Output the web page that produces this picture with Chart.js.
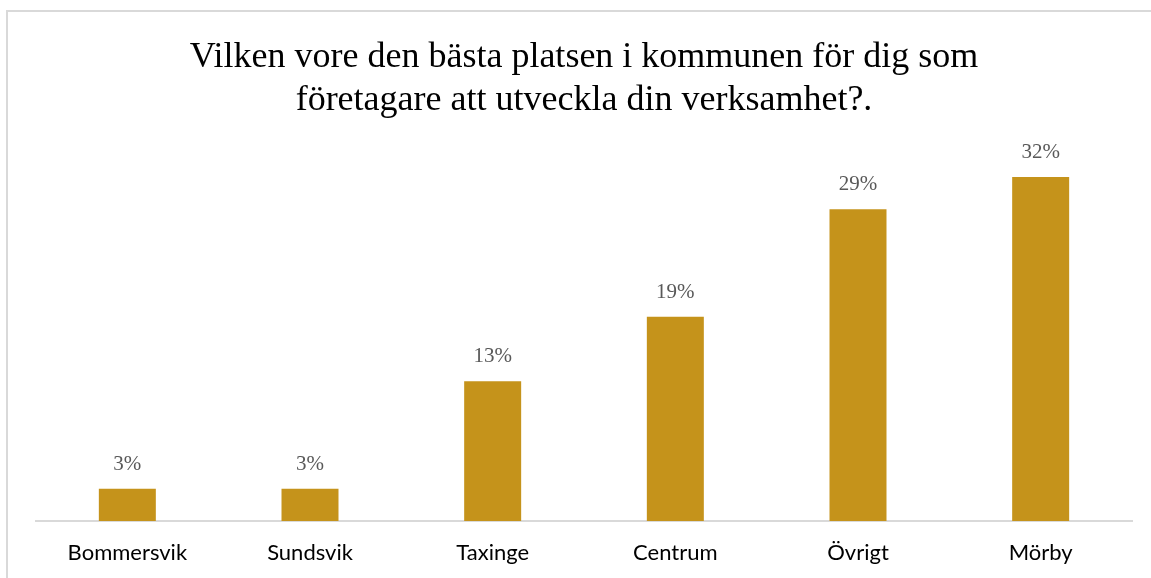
<!DOCTYPE html>
<html>
<head>
<meta charset="utf-8">
<script src="https://cdn.jsdelivr.net/npm/chart.js@4/dist/chart.umd.min.js"></script>
<style>
  html, body { margin: 0; padding: 0; background: #fff; }
  #wrap { width: 1151px; height: 578px; }
</style>
</head>
<body>
<div id="wrap"><canvas id="myChart"></canvas></div>
<script>
// data
var categories = ['Bommersvik', 'Sundsvik', 'Taxinge', 'Centrum', 'Övrigt', 'Mörby'];
var shares = [3, 3, 13, 19, 29, 32];
var titleLines = ['Vilken vore den bästa platsen i kommunen för dig som', 'företagare att utveckla din verksamhet?.'];

// frame round the chart (left and top edges are visible)
var framePlugin = {
  id: 'frame',
  beforeDraw: function (chart) {
    var ctx = chart.ctx;
    ctx.save();
    ctx.fillStyle = '#fff';
    ctx.fillRect(0, 0, chart.width, chart.height);
    ctx.strokeStyle = '#d9d9d9';
    ctx.lineWidth = 2;
    ctx.beginPath();
    ctx.moveTo(7, chart.height);
    ctx.lineTo(7, 11);
    ctx.lineTo(chart.width, 11);
    ctx.stroke();
    ctx.restore();
  }
};

// percentage labels over the bars
var valueLabels = {
  id: 'valueLabels',
  afterDatasetsDraw: function (chart) {
    var ctx = chart.ctx;
    var meta = chart.getDatasetMeta(0);
    ctx.save();
    ctx.font = '21px "Liberation Serif", serif';
    ctx.fillStyle = '#595959';
    ctx.textAlign = 'center';
    ctx.textBaseline = 'bottom';
    meta.data.forEach(function (bar, i) {
      ctx.fillText(shares[i] + '%', bar.x, bar.y - 14);
    });
    ctx.restore();
  }
};

new Chart('myChart', {
  type: 'bar',
  data: {
    labels: categories,
    datasets: [{
      data: shares,
      backgroundColor: '#C5931B',
      categoryPercentage: 1,
      barPercentage: 0.312
    }]
  },
  options: {
    responsive: true,
    maintainAspectRatio: false,
    animation: false,
    layout: { padding: { left: 36, right: 19, top: 11, bottom: 11.6 } },
    plugins: {
      legend: { display: false },
      tooltip: { enabled: false },
      title: {
        display: true,
        text: titleLines,
        color: '#000',
        font: { family: '"Liberation Serif", serif', size: 36, weight: 'normal', lineHeight: 1.19 },
        padding: { top: 25.5, bottom: 22.5 }
      }
    },
    scales: {
      x: {
        grid: { display: false, drawTicks: false },
        border: { display: true, color: '#d9d9d9', width: 2 },
        ticks: { color: '#000', font: { family: 'Lato, sans-serif', size: 22 }, padding: 19 },
        afterFit: function (axis) { axis.height = 45.4; }
      },
      y: {
        display: false,
        min: 0,
        max: 35
      }
    }
  },
  plugins: [framePlugin, valueLabels]
});
</script>
</body>
</html>
